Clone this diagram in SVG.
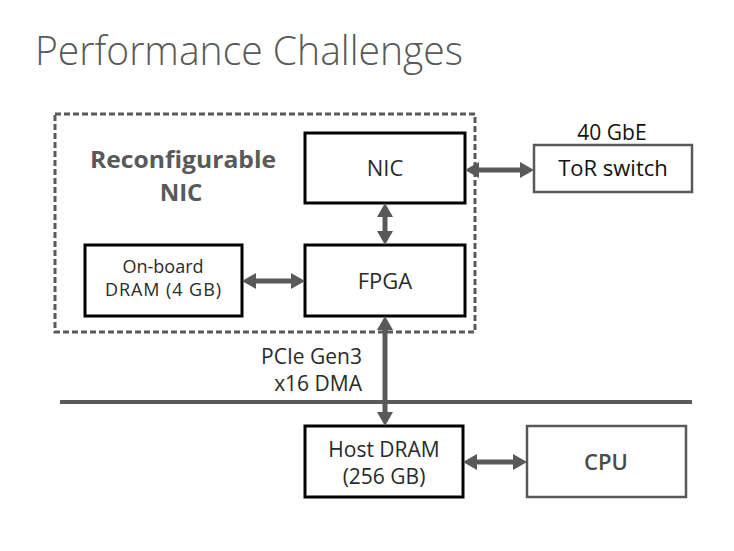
<svg xmlns="http://www.w3.org/2000/svg" width="734" height="551" viewBox="0 0 734 551">
<style>
text{font-family:"Open Sans","Noto Sans","Liberation Sans",sans-serif;fill:#2a2a2a}
.box{fill:#fff;stroke:#000;stroke-width:3}
.gbox{fill:#fff;stroke:#595959;stroke-width:2.5}
.conn{stroke:#595959;stroke-width:5;fill:none;marker-start:url(#ah);marker-end:url(#ah)}
.lbl{font-size:22px;text-anchor:middle;dominant-baseline:central}
</style>
<defs>
<marker id="ah" viewBox="0 0 14 16" refX="4" refY="8" markerWidth="14" markerHeight="16" markerUnits="userSpaceOnUse" orient="auto-start-reverse">
<path d="M0,0 L14,8 L0,16 z" fill="#595959"/>
</marker>
</defs>
<rect width="734" height="551" fill="#fff"/>
<text x="35" y="65" font-size="40" font-weight="300" style="fill:#595959" textLength="428" lengthAdjust="spacingAndGlyphs">Performance Challenges</text>

<g id="reconfigurable-nic">
<rect x="55" y="114" width="420" height="218" fill="none" stroke="#595959" stroke-width="3" stroke-dasharray="6,3"/>
<text x="183" y="168" font-size="24" font-weight="bold" text-anchor="middle" style="fill:#595959" textLength="186" lengthAdjust="spacingAndGlyphs">Reconfigurable</text>
<text x="181" y="201" font-size="24" font-weight="bold" text-anchor="middle" style="fill:#595959">NIC</text>
</g>
<g id="pcie-bus">
<line x1="60" y1="402" x2="692" y2="402" stroke="#595959" stroke-width="4"/>
</g>
<g id="nic">
<rect class="box" x="305" y="133" width="160" height="70"/>
<text class="lbl" x="385" y="167">NIC</text>
</g>
<g id="fpga">
<rect class="box" x="305" y="245" width="160" height="71"/>
<text class="lbl" x="385" y="280">FPGA</text>
</g>
<g id="onboard-dram">
<rect class="box" x="85" y="245" width="157" height="71"/>
<text x="163" y="273" font-size="18" text-anchor="middle">On-board</text>
<text x="163" y="296" font-size="18" text-anchor="middle" textLength="116" lengthAdjust="spacing">DRAM (4 GB)</text>
</g>
<g id="tor-switch">
<text x="612" y="140" font-size="21" text-anchor="middle" style="fill:#111">40 GbE</text>
<rect class="gbox" x="534" y="145" width="158" height="47"/>
<text class="lbl" x="613" y="167" style="fill:#111">ToR switch</text>
</g>
<g id="host-dram">
<rect class="box" x="305" y="426" width="158" height="71"/>
<text x="384" y="457" font-size="21" text-anchor="middle">Host DRAM</text>
<text x="384" y="484" font-size="21" text-anchor="middle">(256 GB)</text>
</g>
<g id="cpu">
<rect class="gbox" x="527" y="426" width="159" height="71"/>
<text class="lbl" x="606" y="461" font-weight="600" style="fill:#4a4a4a">CPU</text>
</g>
<g id="pcie-label">
<text x="362" y="364" font-size="21" text-anchor="end">PCIe Gen3</text>
<text x="362" y="391" font-size="21" text-anchor="end">x16 DMA</text>
</g>
<g id="connectors">
<line class="conn" x1="475" y1="170" x2="524" y2="170"/>
<line class="conn" x1="385" y1="213" x2="385" y2="235"/>
<line class="conn" x1="252" y1="281" x2="295" y2="281"/>
<line class="conn" x1="385" y1="326" x2="385" y2="416"/>
<line class="conn" x1="473" y1="462" x2="517" y2="462"/>
</g>
</svg>
